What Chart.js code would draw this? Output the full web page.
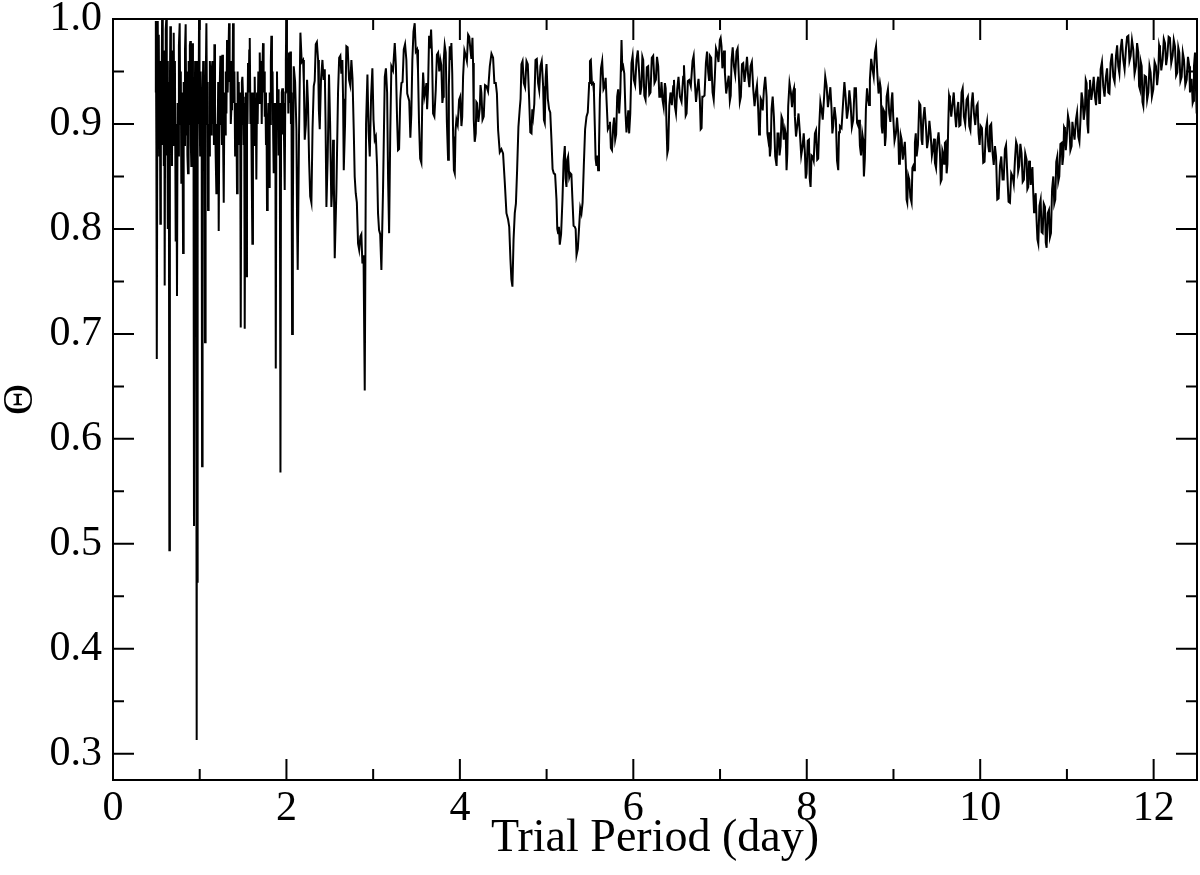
<!DOCTYPE html>
<html>
<head>
<meta charset="utf-8">
<title>Theta periodogram</title>
<script src="https://cdn.jsdelivr.net/npm/chart.js@4.4.1/dist/chart.umd.min.js"></script>
<style>
  html, body { margin: 0; padding: 0; background: #ffffff; }
  #chart { display: block; }
</style>
</head>
<body>
<canvas id="chart" width="1200" height="875"></canvas>
<script>
// Trial period (day), 0.49 - 2.07
const trialPeriod = [
  0.490, 0.494, 0.500, 0.503, 0.507, 0.512, 0.516, 0.522, 0.528, 0.534,
  0.540, 0.546, 0.552, 0.558, 0.566, 0.574, 0.580, 0.586, 0.592, 0.596,
  0.602, 0.608, 0.614, 0.620, 0.626, 0.632, 0.638, 0.644, 0.650, 0.656,
  0.661, 0.668, 0.674, 0.680, 0.687, 0.694, 0.700, 0.707, 0.714, 0.723,
  0.730, 0.738, 0.745, 0.752, 0.760, 0.769, 0.776, 0.782, 0.788, 0.795,
  0.801, 0.808, 0.815, 0.822, 0.830, 0.838, 0.845, 0.852, 0.858, 0.865,
  0.872, 0.879, 0.886, 0.892, 0.898, 0.903, 0.909, 0.915, 0.922, 0.928,
  0.934, 0.941, 0.947, 0.953, 0.958, 0.965, 0.969, 0.973, 0.979, 0.986,
  0.992, 0.998, 1.005, 1.011, 1.017, 1.022, 1.027, 1.033, 1.040, 1.047,
  1.054, 1.061, 1.068, 1.077, 1.085, 1.091, 1.096, 1.103, 1.110, 1.117,
  1.123, 1.131, 1.138, 1.146, 1.152, 1.158, 1.164, 1.169, 1.176, 1.184,
  1.192, 1.199, 1.206, 1.213, 1.219, 1.226, 1.232, 1.238, 1.244, 1.250,
  1.256, 1.261, 1.268, 1.277, 1.285, 1.292, 1.300, 1.308, 1.315, 1.322,
  1.330, 1.338, 1.345, 1.352, 1.358, 1.365, 1.372, 1.378, 1.384, 1.392,
  1.400, 1.408, 1.415, 1.422, 1.430, 1.437, 1.444, 1.450, 1.458, 1.466,
  1.473, 1.480, 1.486, 1.492, 1.500, 1.507, 1.513, 1.519, 1.526, 1.532,
  1.538, 1.545, 1.551, 1.557, 1.565, 1.571, 1.577, 1.585, 1.592, 1.600,
  1.607, 1.614, 1.621, 1.628, 1.634, 1.641, 1.647, 1.653, 1.661, 1.668,
  1.676, 1.684, 1.692, 1.700, 1.708, 1.715, 1.722, 1.730, 1.737, 1.744,
  1.750, 1.757, 1.764, 1.770, 1.776, 1.784, 1.792, 1.800, 1.807, 1.813,
  1.820, 1.826, 1.833, 1.840, 1.847, 1.853, 1.860, 1.866, 1.872, 1.877,
  1.884, 1.891, 1.897, 1.903, 1.910, 1.917, 1.924, 1.931, 1.938, 1.946,
  1.953, 1.960, 1.967, 1.973, 1.980, 1.987, 1.993, 1.999, 2.006, 2.014,
  2.022, 2.030, 2.038, 2.045, 2.052, 2.058, 2.065
];

// Theta statistic at each trial period above
const theta = [
  0.930, 0.998, 0.880, 0.990, 0.676, 0.940, 0.998, 0.900, 0.985, 0.870,
  0.960, 0.805, 0.950, 0.900, 0.999, 0.880, 0.970, 0.860, 0.950, 0.746,
  0.930, 0.990, 0.999, 0.870, 0.960, 0.800, 0.940, 0.890, 0.494, 0.930,
  0.993, 0.900, 0.970, 0.860, 0.950, 0.880, 0.987, 0.910, 0.960, 0.788,
  0.900, 0.736, 0.920, 0.870, 0.975, 0.996, 0.900, 0.950, 0.844, 0.930,
  0.900, 0.777, 0.940, 0.880, 0.970, 0.995, 0.890, 0.950, 0.870, 0.853,
  0.960, 0.900, 0.975, 0.979, 0.880, 0.860, 0.960, 0.977, 0.880, 0.920,
  0.517, 0.900, 0.960, 0.860, 0.930, 0.313, 0.900, 0.463, 0.960, 0.900,
  0.999, 0.920, 0.870, 0.950, 0.880, 0.930, 0.574, 0.920, 0.960, 0.870,
  0.940, 0.692, 0.930, 0.996, 0.900, 0.940, 0.818, 0.900, 0.870, 0.960,
  0.940, 0.890, 0.950, 0.960, 0.900, 0.940, 0.880, 0.976, 0.920, 0.870,
  0.834, 0.900, 0.880, 0.940, 0.798, 0.900, 0.940, 0.965, 0.900, 0.920,
  0.880, 0.966, 0.900, 0.825, 0.930, 0.890, 0.950, 0.910, 0.980, 0.930,
  0.960, 0.996, 0.940, 0.960, 0.900, 0.914, 0.960, 0.930, 0.996, 0.920,
  0.950, 0.870, 0.888, 0.920, 0.834, 0.950, 0.900, 0.940, 0.880, 0.930,
  0.706, 0.900, 0.940, 0.945, 0.926, 0.880, 0.920, 0.705, 0.900, 0.930,
  0.755, 0.920, 0.900, 0.958, 0.930, 0.970, 0.982, 0.900, 0.930, 0.850,
  0.786, 0.900, 0.930, 0.880, 0.945, 0.900, 0.920, 0.847, 0.930, 0.900,
  0.950, 0.920, 0.968, 0.930, 0.960, 0.900, 0.950, 0.977, 0.930, 0.950,
  0.907, 0.930, 0.880, 0.910, 0.818, 0.900, 0.920, 0.840, 0.930, 0.900,
  0.960, 0.984, 0.920, 0.950, 0.890, 0.853, 0.920, 0.860, 0.920, 0.667,
  0.900, 0.950, 0.900, 0.933, 0.870, 0.920, 0.880, 0.568, 0.900, 0.930,
  0.934, 0.890, 0.920, 0.880, 0.837, 0.930, 0.960, 0.999, 0.930, 0.960,
  0.910, 0.968, 0.920, 0.969, 0.900, 0.930, 0.700
];

// Trial period (day), 2.07 - 5.85
const periodMid = [
  2.074, 2.084, 2.100, 2.115, 2.122, 2.130, 2.145, 2.161, 2.176, 2.192,
  2.201, 2.211, 2.224, 2.238, 2.249, 2.261, 2.274, 2.288, 2.301, 2.315,
  2.326, 2.338, 2.351, 2.365, 2.374, 2.384, 2.399, 2.415, 2.428, 2.442,
  2.451, 2.461, 2.476, 2.491, 2.504, 2.518, 2.528, 2.538, 2.547, 2.557,
  2.576, 2.595, 2.608, 2.622, 2.633, 2.645, 2.653, 2.661, 2.676, 2.691,
  2.706, 2.722, 2.735, 2.749, 2.762, 2.776, 2.787, 2.799, 2.812, 2.826,
  2.839, 2.853, 2.864, 2.876, 2.889, 2.903, 2.918, 2.934, 2.947, 2.961,
  2.976, 2.991, 3.004, 3.018, 3.031, 3.045, 3.056, 3.068, 3.081, 3.095,
  3.114, 3.134, 3.147, 3.161, 3.172, 3.184, 3.197, 3.210, 3.229, 3.249,
  3.262, 3.276, 3.287, 3.299, 3.312, 3.326, 3.339, 3.353, 3.368, 3.383,
  3.393, 3.403, 3.416, 3.429, 3.440, 3.452, 3.465, 3.479, 3.492, 3.506,
  3.517, 3.529, 3.542, 3.556, 3.566, 3.576, 3.591, 3.606, 3.614, 3.622,
  3.633, 3.645, 3.656, 3.668, 3.679, 3.691, 3.706, 3.722, 3.735, 3.749,
  3.762, 3.775, 3.786, 3.798, 3.806, 3.814, 3.825, 3.837, 3.850, 3.864,
  3.873, 3.883, 3.892, 3.902, 3.912, 3.922, 3.931, 3.941, 3.950, 3.960,
  3.975, 3.991, 4.004, 4.018, 4.027, 4.037, 4.052, 4.068, 4.081, 4.095,
  4.108, 4.121, 4.133, 4.145, 4.152, 4.160, 4.171, 4.183, 4.190, 4.198,
  4.213, 4.229, 4.238, 4.248, 4.261, 4.275, 4.290, 4.306, 4.325, 4.345,
  4.364, 4.383, 4.398, 4.414, 4.427, 4.441, 4.460, 4.479, 4.498, 4.518,
  4.537, 4.556, 4.569, 4.583, 4.594, 4.606, 4.619, 4.633, 4.646, 4.660,
  4.675, 4.690, 4.700, 4.710, 4.723, 4.737, 4.752, 4.768, 4.783, 4.799,
  4.812, 4.826, 4.835, 4.845, 4.858, 4.872, 4.887, 4.902, 4.915, 4.929,
  4.944, 4.960, 4.969, 4.979, 4.989, 4.999, 5.014, 5.029, 5.042, 5.056,
  5.069, 5.083, 5.098, 5.114, 5.123, 5.133, 5.142, 5.152, 5.167, 5.183,
  5.196, 5.210, 5.219, 5.229, 5.238, 5.248, 5.261, 5.275, 5.286, 5.298,
  5.311, 5.325, 5.335, 5.345, 5.360, 5.375, 5.388, 5.402, 5.415, 5.429,
  5.444, 5.460, 5.475, 5.491, 5.500, 5.510, 5.523, 5.537, 5.546, 5.556,
  5.565, 5.575, 5.584, 5.594, 5.604, 5.614, 5.627, 5.641, 5.656, 5.671,
  5.681, 5.691, 5.706, 5.721, 5.731, 5.741, 5.754, 5.768, 5.779, 5.791,
  5.802, 5.814, 5.825, 5.837, 5.850
];

const thetaMid = [
  0.813, 0.955, 0.940, 0.895, 0.813, 0.761, 0.889, 0.987, 0.959, 0.961,
  0.938, 0.885, 0.899, 0.942, 0.919, 0.866, 0.831, 0.825, 0.896, 0.936,
  0.941, 0.976, 0.978, 0.961, 0.913, 0.895, 0.943, 0.961, 0.942, 0.952,
  0.902, 0.821, 0.869, 0.947, 0.899, 0.821, 0.838, 0.885, 0.844, 0.772,
  0.836, 0.930, 0.963, 0.965, 0.948, 0.961, 0.924, 0.856, 0.900, 0.974,
  0.973, 0.942, 0.937, 0.961, 0.943, 0.895, 0.850, 0.834, 0.825, 0.786,
  0.780, 0.793, 0.795, 0.767, 0.775, 0.646, 0.900, 0.947, 0.893, 0.869,
  0.926, 0.953, 0.904, 0.885, 0.888, 0.860, 0.815, 0.799, 0.795, 0.761,
  0.838, 0.945, 0.953, 0.930, 0.848, 0.796, 0.891, 0.955, 0.951, 0.977,
  0.956, 0.904, 0.875, 0.876, 0.923, 0.939, 0.940, 0.971, 0.976, 0.961,
  0.929, 0.926, 0.922, 0.887, 0.909, 0.961, 0.988, 0.996, 0.969, 0.971,
  0.951, 0.901, 0.867, 0.863, 0.921, 0.949, 0.926, 0.933, 0.939, 0.914,
  0.934, 0.984, 0.972, 0.990, 0.965, 0.910, 0.907, 0.933, 0.966, 0.968,
  0.950, 0.961, 0.956, 0.920, 0.926, 0.961, 0.975, 0.968, 0.902, 0.866,
  0.935, 0.974, 0.961, 0.977, 0.948, 0.888, 0.856, 0.853, 0.894, 0.904,
  0.899, 0.923, 0.926, 0.898, 0.907, 0.945, 0.970, 0.965, 0.960, 0.985,
  0.983, 0.971, 0.962, 0.982, 0.958, 0.904, 0.883, 0.891, 0.921, 0.920,
  0.902, 0.914, 0.937, 0.930, 0.904, 0.907, 0.937, 0.936, 0.931, 0.955,
  0.967, 0.963, 0.939, 0.939, 0.929, 0.894, 0.873, 0.876, 0.872, 0.844,
  0.815, 0.809, 0.802, 0.771, 0.752, 0.745, 0.790, 0.815, 0.824, 0.856,
  0.897, 0.914, 0.924, 0.957, 0.960, 0.939, 0.935, 0.960, 0.957, 0.923,
  0.892, 0.891, 0.914, 0.907, 0.919, 0.961, 0.962, 0.939, 0.932, 0.955,
  0.960, 0.936, 0.904, 0.901, 0.944, 0.957, 0.924, 0.914, 0.911, 0.885,
  0.857, 0.853, 0.852, 0.828, 0.800, 0.796, 0.802, 0.785, 0.795, 0.828,
  0.865, 0.879, 0.848, 0.840, 0.866, 0.869, 0.849, 0.853, 0.852, 0.828,
  0.803, 0.802, 0.800, 0.775, 0.781, 0.802, 0.820, 0.815, 0.825, 0.860,
  0.895, 0.907, 0.911, 0.939, 0.960, 0.961, 0.938, 0.939, 0.930, 0.898,
  0.867, 0.860, 0.870, 0.856, 0.877, 0.923, 0.953, 0.960, 0.933, 0.936,
  0.944, 0.923, 0.895, 0.898, 0.902, 0.877, 0.875, 0.898, 0.906, 0.885,
  0.890, 0.926, 0.933, 0.910, 0.930
];

// Trial period (day), 5.86 - 12.5 (finely sampled noisy band)
const periodLate = [
  5.864, 5.873, 5.883, 5.896, 5.910, 5.921, 5.933, 5.942, 5.952, 5.965,
  5.979, 5.992, 6.006, 6.021, 6.037, 6.052, 6.067, 6.080, 6.094, 6.104,
  6.114, 6.127, 6.141, 6.156, 6.171, 6.184, 6.198, 6.213, 6.229, 6.244,
  6.260, 6.273, 6.287, 6.300, 6.314, 6.325, 6.337, 6.350, 6.364, 6.373,
  6.383, 6.392, 6.402, 6.415, 6.429, 6.444, 6.460, 6.469, 6.479, 6.492,
  6.506, 6.521, 6.537, 6.556, 6.575, 6.584, 6.594, 6.604, 6.614, 6.629,
  6.644, 6.663, 6.683, 6.696, 6.710, 6.723, 6.737, 6.752, 6.767, 6.777,
  6.787, 6.796, 6.806, 6.821, 6.837, 6.850, 6.864, 6.873, 6.883, 6.898,
  6.914, 6.927, 6.940, 6.953, 6.967, 6.982, 6.998, 7.007, 7.017, 7.027,
  7.037, 7.046, 7.056, 7.071, 7.087, 7.100, 7.113, 7.123, 7.133, 7.146,
  7.160, 7.175, 7.190, 7.203, 7.217, 7.228, 7.240, 7.253, 7.267, 7.282,
  7.298, 7.311, 7.325, 7.338, 7.352, 7.367, 7.383, 7.398, 7.413, 7.426,
  7.440, 7.450, 7.460, 7.469, 7.479, 7.492, 7.506, 7.521, 7.537, 7.546,
  7.556, 7.565, 7.575, 7.584, 7.594, 7.607, 7.621, 7.636, 7.652, 7.663,
  7.675, 7.686, 7.698, 7.709, 7.721, 7.734, 7.748, 7.757, 7.767, 7.776,
  7.786, 7.801, 7.817, 7.830, 7.844, 7.853, 7.863, 7.876, 7.890, 7.905,
  7.921, 7.936, 7.952, 7.965, 7.979, 7.988, 7.998, 8.011, 8.025, 8.034,
  8.044, 8.055, 8.067, 8.080, 8.094, 8.107, 8.121, 8.132, 8.144, 8.157,
  8.171, 8.184, 8.198, 8.213, 8.229, 8.244, 8.259, 8.272, 8.286, 8.295,
  8.305, 8.320, 8.336, 8.349, 8.363, 8.372, 8.382, 8.401, 8.421, 8.434,
  8.448, 8.463, 8.478, 8.491, 8.505, 8.520, 8.536, 8.551, 8.567, 8.580,
  8.594, 8.603, 8.613, 8.626, 8.640, 8.649, 8.659, 8.670, 8.682, 8.695,
  8.709, 8.718, 8.728, 8.743, 8.759, 8.772, 8.786, 8.799, 8.813, 8.828,
  8.844, 8.853, 8.863, 8.872, 8.882, 8.892, 8.902, 8.911, 8.921, 8.936,
  8.951, 8.964, 8.978, 8.987, 8.997, 9.012, 9.028, 9.041, 9.055, 9.064,
  9.074, 9.084, 9.094, 9.107, 9.120, 9.131, 9.143, 9.151, 9.159, 9.170,
  9.182, 9.195, 9.209, 9.218, 9.228, 9.237, 9.247, 9.257, 9.267, 9.282,
  9.297, 9.310, 9.324, 9.333, 9.343, 9.358, 9.374, 9.387, 9.401, 9.414,
  9.428, 9.443, 9.459, 9.468, 9.478, 9.491, 9.505, 9.520, 9.536, 9.545,
  9.555, 9.564, 9.574, 9.583, 9.593, 9.603, 9.613, 9.622, 9.632, 9.641,
  9.651, 9.666, 9.682, 9.695, 9.709, 9.722, 9.736, 9.747, 9.759, 9.772,
  9.785, 9.798, 9.812, 9.827, 9.843, 9.858, 9.874, 9.887, 9.901, 9.914,
  9.928, 9.943, 9.959, 9.970, 9.981, 9.993, 10.005, 10.020, 10.035, 10.050,
  10.066, 10.079, 10.093, 10.102, 10.112, 10.127, 10.143, 10.156, 10.170, 10.183,
  10.197, 10.212, 10.228, 10.243, 10.258, 10.271, 10.285, 10.298, 10.312, 10.327,
  10.343, 10.358, 10.374, 10.387, 10.401, 10.414, 10.427, 10.438, 10.450, 10.463,
  10.477, 10.490, 10.504, 10.519, 10.535, 10.544, 10.554, 10.564, 10.574, 10.583,
  10.593, 10.602, 10.612, 10.621, 10.631, 10.640, 10.650, 10.660, 10.670, 10.683,
  10.697, 10.708, 10.720, 10.733, 10.747, 10.756, 10.766, 10.779, 10.793, 10.804,
  10.816, 10.829, 10.843, 10.854, 10.866, 10.877, 10.889, 10.900, 10.912, 10.925,
  10.939, 10.948, 10.958, 10.967, 10.977, 10.987, 10.997, 11.012, 11.027, 11.040,
  11.054, 11.063, 11.073, 11.088, 11.104, 11.117, 11.131, 11.144, 11.158, 11.169,
  11.181, 11.194, 11.208, 11.217, 11.227, 11.236, 11.246, 11.256, 11.266, 11.281,
  11.296, 11.309, 11.323, 11.336, 11.350, 11.361, 11.373, 11.381, 11.389, 11.404,
  11.419, 11.434, 11.450, 11.463, 11.477, 11.490, 11.504, 11.519, 11.535, 11.550,
  11.566, 11.579, 11.592, 11.605, 11.619, 11.634, 11.650, 11.665, 11.681, 11.694,
  11.708, 11.721, 11.735, 11.750, 11.765, 11.780, 11.796, 11.809, 11.823, 11.832,
  11.842, 11.852, 11.862, 11.871, 11.881, 11.896, 11.912, 11.925, 11.939, 11.952,
  11.965, 11.980, 11.996, 12.011, 12.027, 12.040, 12.054, 12.063, 12.073, 12.088,
  12.104, 12.117, 12.131, 12.144, 12.158, 12.173, 12.188, 12.203, 12.219, 12.232,
  12.246, 12.259, 12.273, 12.284, 12.296, 12.309, 12.323, 12.336, 12.350, 12.365,
  12.381, 12.396, 12.411, 12.419, 12.427, 12.438, 12.450, 12.457, 12.465, 12.477,
  12.496
];

const thetaLate = [
  0.980, 0.953, 0.955, 0.948, 0.910, 0.892, 0.904, 0.913, 0.891, 0.910,
  0.958, 0.965, 0.942, 0.937, 0.961, 0.970, 0.949, 0.928, 0.936, 0.964,
  0.961, 0.927, 0.923, 0.954, 0.955, 0.928, 0.930, 0.963, 0.965, 0.939,
  0.942, 0.964, 0.955, 0.926, 0.926, 0.940, 0.923, 0.916, 0.939, 0.934,
  0.898, 0.872, 0.876, 0.918, 0.930, 0.918, 0.936, 0.942, 0.917, 0.910,
  0.933, 0.945, 0.926, 0.921, 0.945, 0.956, 0.936, 0.908, 0.910, 0.941,
  0.942, 0.936, 0.960, 0.965, 0.939, 0.921, 0.933, 0.943, 0.923, 0.895,
  0.896, 0.926, 0.926, 0.927, 0.958, 0.969, 0.949, 0.942, 0.965, 0.963,
  0.930, 0.923, 0.945, 0.972, 0.968, 0.959, 0.980, 0.982, 0.974, 0.953,
  0.961, 0.970, 0.949, 0.929, 0.939, 0.946, 0.922, 0.927, 0.961, 0.973,
  0.955, 0.947, 0.969, 0.972, 0.945, 0.921, 0.926, 0.957, 0.958, 0.940,
  0.952, 0.964, 0.945, 0.935, 0.955, 0.959, 0.933, 0.917, 0.930, 0.937,
  0.914, 0.890, 0.896, 0.924, 0.922, 0.913, 0.933, 0.945, 0.926, 0.891,
  0.885, 0.892, 0.869, 0.877, 0.914, 0.926, 0.907, 0.869, 0.860, 0.891,
  0.891, 0.870, 0.879, 0.907, 0.904, 0.885, 0.895, 0.891, 0.856, 0.872,
  0.917, 0.939, 0.930, 0.916, 0.931, 0.934, 0.907, 0.888, 0.898, 0.910,
  0.891, 0.870, 0.879, 0.891, 0.872, 0.848, 0.853, 0.884, 0.885, 0.848,
  0.840, 0.870, 0.869, 0.865, 0.891, 0.894, 0.866, 0.867, 0.898, 0.921,
  0.914, 0.904, 0.923, 0.945, 0.936, 0.916, 0.926, 0.935, 0.914, 0.891,
  0.898, 0.916, 0.904, 0.865, 0.856, 0.892, 0.898, 0.896, 0.923, 0.940,
  0.926, 0.905, 0.914, 0.932, 0.920, 0.897, 0.904, 0.934, 0.934, 0.901,
  0.898, 0.904, 0.879, 0.870, 0.891, 0.886, 0.850, 0.867, 0.914, 0.934,
  0.923, 0.918, 0.942, 0.962, 0.952, 0.945, 0.968, 0.974, 0.949, 0.929,
  0.939, 0.934, 0.898, 0.891, 0.914, 0.912, 0.879, 0.888, 0.926, 0.933,
  0.910, 0.902, 0.923, 0.930, 0.907, 0.884, 0.891, 0.906, 0.891, 0.862,
  0.863, 0.889, 0.885, 0.866, 0.876, 0.883, 0.860, 0.828, 0.825, 0.851,
  0.847, 0.830, 0.825, 0.858, 0.860, 0.856, 0.882, 0.891, 0.869, 0.880,
  0.920, 0.918, 0.885, 0.880, 0.904, 0.916, 0.898, 0.877, 0.885, 0.903,
  0.891, 0.870, 0.879, 0.886, 0.863, 0.858, 0.882, 0.892, 0.872, 0.845,
  0.847, 0.875, 0.872, 0.862, 0.882, 0.883, 0.853, 0.862, 0.901, 0.927,
  0.923, 0.907, 0.920, 0.930, 0.910, 0.897, 0.914, 0.921, 0.898, 0.899,
  0.930, 0.934, 0.907, 0.900, 0.923, 0.926, 0.898, 0.894, 0.920, 0.930,
  0.910, 0.899, 0.917, 0.919, 0.891, 0.880, 0.898, 0.896, 0.863, 0.864,
  0.895, 0.902, 0.879, 0.874, 0.898, 0.900, 0.872, 0.861, 0.879, 0.869,
  0.828, 0.829, 0.860, 0.869, 0.847, 0.847, 0.876, 0.880, 0.853, 0.826,
  0.825, 0.853, 0.850, 0.843, 0.866, 0.883, 0.879, 0.855, 0.860, 0.881,
  0.872, 0.845, 0.847, 0.872, 0.866, 0.838, 0.840, 0.865, 0.860, 0.842,
  0.853, 0.859, 0.834, 0.816, 0.828, 0.834, 0.809, 0.790, 0.786, 0.822,
  0.828, 0.797, 0.796, 0.824, 0.821, 0.787, 0.782, 0.815, 0.818, 0.792,
  0.796, 0.838, 0.850, 0.824, 0.828, 0.864, 0.869, 0.845, 0.850, 0.881,
  0.882, 0.861, 0.869, 0.897, 0.895, 0.875, 0.885, 0.908, 0.901, 0.875,
  0.879, 0.902, 0.895, 0.885, 0.904, 0.911, 0.888, 0.883, 0.907, 0.930,
  0.923, 0.904, 0.914, 0.942, 0.939, 0.900, 0.891, 0.932, 0.942, 0.923,
  0.933, 0.945, 0.926, 0.918, 0.939, 0.945, 0.920, 0.921, 0.952, 0.959,
  0.936, 0.926, 0.945, 0.953, 0.930, 0.929, 0.958, 0.967, 0.945, 0.940,
  0.965, 0.975, 0.955, 0.948, 0.971, 0.981, 0.961, 0.952, 0.972, 0.983,
  0.984, 0.960, 0.965, 0.980, 0.971, 0.948, 0.955, 0.977, 0.968, 0.936,
  0.933, 0.959, 0.955, 0.921, 0.917, 0.946, 0.945, 0.923, 0.930, 0.955,
  0.949, 0.926, 0.933, 0.959, 0.955, 0.937, 0.949, 0.975, 0.971, 0.951,
  0.961, 0.981, 0.977, 0.956, 0.965, 0.983, 0.982, 0.958, 0.965, 0.980,
  0.974, 0.946, 0.949, 0.973, 0.968, 0.941, 0.945, 0.968, 0.961, 0.937,
  0.942, 0.964, 0.955, 0.930, 0.936, 0.943, 0.920, 0.922, 0.955, 0.968,
  0.910
];

// Axis ticks
const xMajorTicks = [0, 2, 4, 6, 8, 10, 12];
const xMinorTicks = [1, 3, 5, 7, 9, 11];
const yMajorTicks = [0.3, 0.4, 0.5, 0.6, 0.7, 0.8, 0.9, 1.0];
const yMinorTicks = [0.35, 0.45, 0.55, 0.65, 0.75, 0.85, 0.95];

const xTitle = "Trial Period (day)";
const yTitle = "\u0398";

const serif = "'Liberation Serif', 'Times New Roman', 'DejaVu Serif', serif";

// inward ticks on all four sides plus the frame
const frameTicks = {
  id: "frameTicks",
  afterDraw(chart) {
    const { ctx, chartArea: a, scales } = chart;
    const xs = scales.x, ys = scales.y;
    ctx.save();
    ctx.strokeStyle = "#000";
    ctx.lineWidth = 2;
    ctx.lineCap = "butt";
    ctx.beginPath();
    const xtick = (list, len) => {
      list.forEach(v => {
        const px = xs.getPixelForValue(v);
        ctx.moveTo(px, a.bottom); ctx.lineTo(px, a.bottom - len);
        ctx.moveTo(px, a.top); ctx.lineTo(px, a.top + len);
      });
    };
    const ytick = (list, len) => {
      list.forEach(v => {
        const py = ys.getPixelForValue(v);
        ctx.moveTo(a.left, py); ctx.lineTo(a.left + len, py);
        ctx.moveTo(a.right, py); ctx.lineTo(a.right - len, py);
      });
    };
    xtick(xMajorTicks.filter(v => v > 0), 21);
    xtick(xMinorTicks, 11);
    ytick(yMajorTicks.filter(v => v < 1.0), 21);
    ytick(yMinorTicks, 11);
    ctx.stroke();
    ctx.strokeRect(a.left, a.top, a.right - a.left, a.bottom - a.top);
    ctx.restore();
  }
};

const allPeriods = trialPeriod.concat(periodMid, periodLate);
const allTheta = theta.concat(thetaMid, thetaLate);
const points = allPeriods.map((p, i) => ({ x: p, y: allTheta[i] }));

new Chart(document.getElementById("chart"), {
  type: "line",
  data: {
    datasets: [{
      data: points,
      borderColor: "#000000",
      borderWidth: 2,
      pointRadius: 0,
      tension: 0,
      fill: false
    }]
  },
  options: {
    responsive: false,
    animation: false,
    devicePixelRatio: 1,
    layout: { padding: { top: 19, right: 3, left: 0, bottom: 0 } },
    plugins: {
      legend: { display: false },
      tooltip: { enabled: false }
    },
    scales: {
      x: {
        type: "linear",
        min: 0,
        max: 12.5,
        border: { display: false },
        grid: { display: false, drawTicks: false },
        afterBuildTicks: s => { s.ticks = xMajorTicks.map(v => ({ value: v })); },
        afterFit: s => { s.height = 95; },
        ticks: {
          color: "#000",
          padding: 4,
          maxRotation: 0,
          font: { family: serif, size: 42, lineHeight: 1.2 },
          callback: v => String(v)
        },
        title: {
          display: true,
          text: xTitle,
          color: "#000",
          padding: { top: 0, bottom: 8 },
          font: { family: serif, size: 46, lineHeight: 1.2 }
        }
      },
      y: {
        type: "linear",
        min: 0.275,
        max: 1.0,
        border: { display: false },
        grid: { display: false, drawTicks: false },
        afterBuildTicks: s => { s.ticks = yMajorTicks.map(v => ({ value: v })); },
        afterFit: s => { s.width = 113; },
        ticks: {
          color: "#000",
          padding: 11,
          font: { family: serif, size: 42, lineHeight: 0.2 },
          callback: v => v.toFixed(1)
        },
        title: {
          display: true,
          text: yTitle,
          color: "#000",
          padding: { top: 0, bottom: 0 },
          font: { family: serif, size: 43, lineHeight: 0.95 }
        }
      }
    }
  },
  plugins: [frameTicks]
});
</script>
</body>
</html>
